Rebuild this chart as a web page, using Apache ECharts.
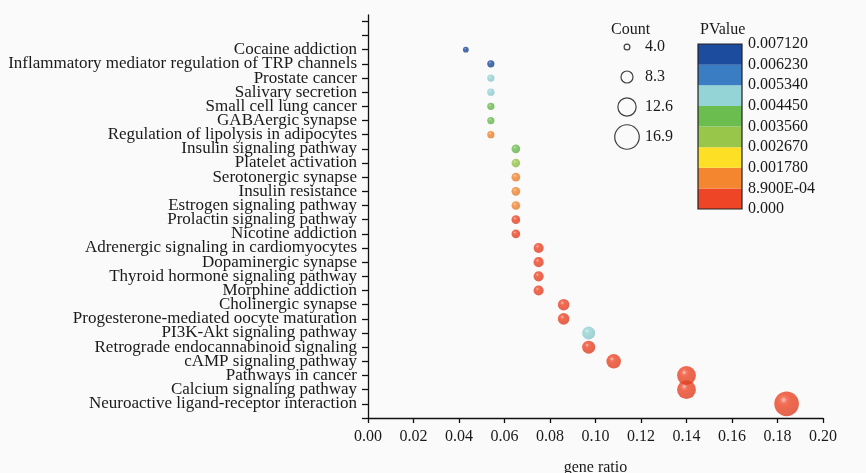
<!DOCTYPE html>
<html>
<head>
<meta charset="utf-8">
<title>KEGG bubble</title>
<script src="https://cdn.jsdelivr.net/npm/echarts@6/dist/echarts.min.js"></script>
<style>
  html, body { margin: 0; padding: 0; background: #fafafa; }
  #chart-panel { width: 866px; height: 473px; }
</style>
</head>
<body>
<div id="chart-panel"></div>
<script>
// terms listed bottom -> top of the axis
var terms = [
  'Neuroactive ligand-receptor interaction',
  'Calcium signaling pathway',
  'Pathways in cancer',
  'cAMP signaling pathway',
  'Retrograde endocannabinoid signaling',
  'PI3K-Akt signaling pathway',
  'Progesterone-mediated oocyte maturation',
  'Cholinergic synapse',
  'Morphine addiction',
  'Thyroid hormone signaling pathway',
  'Dopaminergic synapse',
  'Adrenergic signaling in cardiomyocytes',
  'Nicotine addiction',
  'Prolactin signaling pathway',
  'Estrogen signaling pathway',
  'Insulin resistance',
  'Serotonergic synapse',
  'Platelet activation',
  'Insulin signaling pathway',
  'Regulation of lipolysis in adipocytes',
  'GABAergic synapse',
  'Small cell lung cancer',
  'Salivary secretion',
  'Prostate cancer',
  'Inflammatory mediator regulation of TRP channels',
  'Cocaine addiction'
]
var geneRatio = [0.184, 0.140, 0.140, 0.108, 0.097, 0.097, 0.086, 0.086, 0.075, 0.075, 0.075, 0.075, 0.065,
  0.065, 0.065, 0.065, 0.065, 0.065, 0.065, 0.054, 0.054, 0.054, 0.054, 0.054, 0.054, 0.043]
var counts = [17, 13, 13, 10, 9, 9, 8, 8, 7, 7, 7, 7, 6, 6, 6, 6, 6, 6, 6, 5, 5, 5, 5, 5, 5, 4]
var pValues = [0.0002, 0.0003, 0.0004, 0.0005, 0.0006, 0.0049, 0.0005, 0.0005, 0.0006, 0.0006, 0.0006, 0.0006, 0.0007,
  0.0008, 0.0012, 0.0013, 0.0014, 0.0030, 0.0038, 0.0015, 0.0040, 0.0041, 0.0048, 0.0049, 0.0066, 0.0068]

// colour bar: 8 steps of 8.9E-04
var pStep = 0.00089
var pColors = ['#ee4526', '#f3862f', '#fddf26', '#98c64a', '#6bbd4f', '#95d4d6', '#3a7dc2', '#1c4c9d']
var pTickLabels = ['0.000', '8.900E-04', '0.001780', '0.002670', '0.003560', '0.004450', '0.005340', '0.006230', '0.007120']
var countLegend = ['4.0', '8.3', '12.6', '16.9']

var FONT = 'Liberation Serif'
var INK = '#1a1a1a'
var sizeScale = 1.45

function mix (hex, target, t) {
  var a = parseInt(hex.slice(1), 16)
  var b = parseInt(target.slice(1), 16)
  var ch = [16, 8, 0].map(function (s) {
    var x = (a >> s) & 255
    var y = (b >> s) & 255
    return Math.round(x + (y - x) * t)
  })
  return 'rgb(' + ch.join(',') + ')'
}

function pColor (p) {
  var idx = Math.min(pColors.length - 1, Math.floor(p / pStep))
  return pColors[idx]
}

// small shiny ball like the original
function ball (c) {
  return {
    type: 'radial', x: 0.38, y: 0.34, r: 0.8,
    colorStops: [
      { offset: 0, color: mix(c, '#ffffff', 0.65) },
      { offset: 0.16, color: mix(c, '#ffffff', 0.1) },
      { offset: 0.3, color: c },
      { offset: 1, color: mix(c, '#000000', 0.1) }
    ]
  }
}

var bubbleData = terms.map(function (t, i) {
  return {
    name: t,
    value: [geneRatio[i], i + 1, counts[i], pValues[i]],
    symbolSize: counts[i] * sizeScale,
    itemStyle: { color: ball(pColor(pValues[i])) }
  }
})

// ticks 0..28; the empty end slots keep the first/last term labels from being dropped
var yTicks = []
for (var k = 0; k <= 28; k++) yTicks.push(k)

var textBase = { fontFamily: FONT, fontSize: 16, color: INK }

var option = {
  backgroundColor: '#fafafa',
  animation: false,
  title: [
    { text: 'Count', left: 606, top: 17, textStyle: { fontFamily: FONT, fontSize: 16, fontWeight: 'normal', color: INK } },
    { text: 'PValue', left: 695, top: 17, textStyle: { fontFamily: FONT, fontSize: 16, fontWeight: 'normal', color: INK } }
  ],
  grid: [
    { left: 368, right: 43, top: 15, bottom: 55, outerBoundsMode: 'none' },
    { left: 612, top: 32, width: 30, height: 120, outerBoundsMode: 'none' },
    {
      left: 698, top: 44, width: 44, height: 165, outerBoundsMode: 'none',
      show: true, z: 5, backgroundColor: 'transparent', borderColor: '#222', borderWidth: 1.2
    }
  ],
  xAxis: [
    {
      gridIndex: 0,
      type: 'value',
      min: 0,
      max: 0.2,
      interval: 0.02,
      axisLine: { show: true, lineStyle: { color: '#111', width: 1.3 } },
      axisTick: { show: true, inside: false, length: 5, lineStyle: { color: '#111', width: 1.3 } },
      axisLabel: Object.assign({
        margin: 11,
        showMinLabel: true,
        showMaxLabel: true,
        formatter: function (v) { return v.toFixed(2) }
      }, textBase),
      splitLine: { show: false },
      name: 'gene ratio',
      nameLocation: 'middle',
      nameGap: 42,
      nameTextStyle: textBase
    },
    { gridIndex: 1, type: 'category', data: [''], show: false },
    { gridIndex: 2, type: 'category', data: [''], show: false }
  ],
  yAxis: [
    {
      gridIndex: 0,
      type: 'value',
      min: 0,
      max: 28.45,
      axisLine: { show: true, lineStyle: { color: '#111', width: 1.3 } },
      axisTick: { show: true, inside: false, length: 6, customValues: yTicks, lineStyle: { color: '#111', width: 1.3 } },
      axisLabel: Object.assign({
        margin: 11,
        customValues: yTicks,
        hideOverlap: false,
        formatter: function (v) { return terms[Math.round(v) - 1] || '' }
      }, textBase, { fontSize: 17 }),
      splitLine: { show: false },
      name: 'Term',
      nameLocation: 'middle',
      nameGap: 342,
      nameTextStyle: Object.assign({ padding: [0, 0, 0, 40] }, textBase)
    },
    {
      gridIndex: 1,
      type: 'category',
      data: countLegend,
      inverse: true,
      position: 'right',
      axisLine: { show: false },
      axisTick: { show: false },
      axisLabel: Object.assign({ margin: 3 }, textBase)
    },
    {
      gridIndex: 2,
      type: 'value',
      min: 0,
      max: pStep * 8,
      interval: pStep,
      position: 'right',
      axisLine: { show: false },
      axisTick: { show: false },
      splitLine: { show: false },
      axisLabel: Object.assign({
        margin: 6,
        showMinLabel: true,
        showMaxLabel: true,
        formatter: function (v) { return pTickLabels[Math.round(v / pStep)] }
      }, textBase)
    }
  ],
  series: [
    {
      type: 'scatter',
      xAxisIndex: 0,
      yAxisIndex: 0,
      data: bubbleData
    },
    {
      type: 'scatter',
      xAxisIndex: 1,
      yAxisIndex: 1,
      silent: true,
      data: countLegend.map(function (c, i) { return [0, i] }),
      symbolSize: function (v, p) { return parseFloat(countLegend[p.dataIndex]) * sizeScale },
      itemStyle: { color: '#fafafa', borderColor: '#111', borderWidth: 1.2 }
    }
  ].concat(pColors.map(function (c) {
    return {
      type: 'bar',
      xAxisIndex: 2,
      yAxisIndex: 2,
      stack: 'pv',
      silent: true,
      barWidth: '100%',
      data: [pStep],
      itemStyle: { color: c }
    }
  }))
}

var chart = echarts.init(document.getElementById('chart-panel'))
chart.setOption(option)
</script>
</body>
</html>
